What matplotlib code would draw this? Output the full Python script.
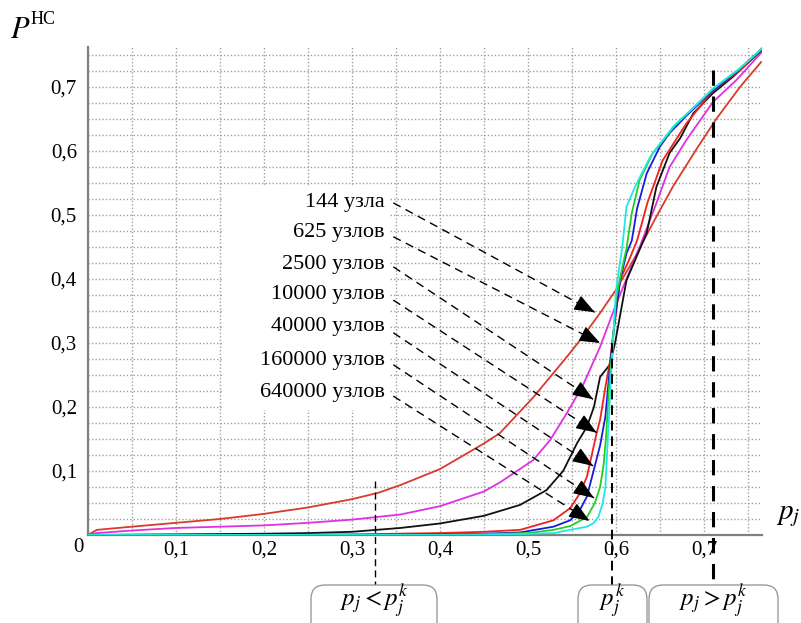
import matplotlib
matplotlib.use('Agg')
import matplotlib.pyplot as plt
from matplotlib.patches import FancyBboxPatch, Rectangle
from matplotlib.ticker import FuncFormatter, MultipleLocator

plt.rcParams['font.family'] = ['Liberation Serif', 'DejaVu Serif']
plt.rcParams['mathtext.fontset'] = 'stix'

# кривые для разных размеров решётки
x144 = [0, 0.01, 0.05, 0.1, 0.15, 0.2, 0.25, 0.3, 0.33, 0.355, 0.40, 0.45, 0.468, 0.506,
        0.544, 0.5625, 0.582, 0.60, 0.62, 0.643, 0.665, 0.693, 0.714, 0.741, 0.765]
y144 = [0, 0.008, 0.013, 0.019, 0.025, 0.033, 0.043, 0.056, 0.066, 0.078, 0.103, 0.143, 0.159, 0.215,
        0.278, 0.31, 0.347, 0.383, 0.43, 0.49, 0.545, 0.606, 0.65, 0.70, 0.739]

x625 = [0, 0.01, 0.05, 0.1, 0.15, 0.2, 0.25, 0.3, 0.355, 0.40, 0.45, 0.468, 0.506, 0.525, 0.544,
        0.5625, 0.582, 0.60, 0.615, 0.627, 0.645, 0.661, 0.68, 0.71, 0.737, 0.766]
y625 = [0, 0.003, 0.007, 0.011, 0.013, 0.015, 0.019, 0.024, 0.032, 0.045, 0.068, 0.082, 0.117, 0.148, 0.19,
        0.234, 0.294, 0.36, 0.41, 0.45, 0.515, 0.575, 0.617, 0.676, 0.711, 0.755]

x2500 = [0, 0.1, 0.2, 0.25, 0.3, 0.355, 0.40, 0.45, 0.491, 0.521, 0.54, 0.556, 0.567, 0.575, 0.582,
         0.593, 0.599, 0.612, 0.635, 0.646, 0.661, 0.673, 0.688, 0.71, 0.733, 0.766]
y2500 = [0, 0.001, 0.002, 0.003, 0.005, 0.011, 0.018, 0.03, 0.047, 0.07, 0.10, 0.144, 0.169, 0.2, 0.247,
         0.266, 0.30, 0.398, 0.472, 0.544, 0.597, 0.62, 0.659, 0.69, 0.716, 0.758]

x10000 = [0, 0.2, 0.3, 0.4, 0.45, 0.491, 0.529, 0.548, 0.559, 0.567, 0.573, 0.578, 0.582, 0.588, 0.593,
          0.599, 0.605, 0.615, 0.624, 0.636, 0.653, 0.68, 0.71, 0.74, 0.766]
y10000 = [0, 0, 0.001, 0.003, 0.005, 0.008, 0.023, 0.042, 0.065, 0.091, 0.128, 0.159, 0.18, 0.231, 0.269,
          0.336, 0.40, 0.43, 0.46, 0.52, 0.585, 0.643, 0.694, 0.725, 0.76]

x40000 = [0, 0.3, 0.4, 0.45, 0.491, 0.529, 0.548, 0.559, 0.567, 0.574, 0.582, 0.588, 0.593, 0.599, 0.605,
          0.612, 0.618, 0.624, 0.635, 0.65, 0.661, 0.68, 0.71, 0.74, 0.766]
y40000 = [0, 0, 0.001, 0.002, 0.004, 0.013, 0.023, 0.039, 0.06, 0.097, 0.14, 0.185, 0.26, 0.34, 0.40,
          0.44, 0.46, 0.51, 0.565, 0.607, 0.628, 0.655, 0.694, 0.727, 0.76]

x160000 = [0, 0.4, 0.5, 0.529, 0.548, 0.567, 0.576, 0.582, 0.586, 0.589, 0.592, 0.596, 0.6, 0.606, 0.612,
           0.618, 0.627, 0.642, 0.669, 0.69, 0.71, 0.74, 0.766]
y160000 = [0, 0, 0.003, 0.008, 0.014, 0.028, 0.05, 0.075, 0.11, 0.158, 0.227, 0.294, 0.367, 0.41, 0.448,
           0.503, 0.555, 0.597, 0.643, 0.67, 0.697, 0.728, 0.76]

x640000 = [0, 0.45, 0.529, 0.567, 0.574, 0.58, 0.585, 0.588, 0.59, 0.593, 0.597, 0.6, 0.604, 0.607, 0.612,
           0.622, 0.639, 0.665, 0.69, 0.71, 0.74, 0.766]
y640000 = [0, 0, 0.003, 0.013, 0.018, 0.028, 0.05, 0.075, 0.13, 0.21, 0.31, 0.38, 0.42, 0.448, 0.513,
           0.545, 0.591, 0.638, 0.67, 0.697, 0.728, 0.76]

curves = [(x144, y144, '#d93a2b'), (x625, y625, '#e030e0'), (x2500, y2500, '#111111'),
          (x10000, y10000, '#f02020'), (x40000, y40000, '#1a1ae0'), (x160000, y160000, '#22d022'),
          (x640000, y640000, '#22e6e6')]

labels = ['144 узла', '625 узлов', '2500 узлов', '10000 узлов', '40000 узлов', '160000 узлов', '640000 узлов']
label_y = [0.52, 0.472, 0.422, 0.375, 0.325, 0.273, 0.223]
arrow_start_y = [0.519, 0.466, 0.419, 0.367, 0.316, 0.266, 0.217]
arrow_tip = [(0.576, 0.348), (0.582, 0.300), (0.574, 0.212), (0.578, 0.160),
             (0.574, 0.108), (0.575, 0.058), (0.570, 0.022)]

zones = [r'$p_j < p^k_j$', r'$p^k_j$', r'$p_j > p^k_j$']
zone_x = [0.326, 0.596, 0.710]

fig = plt.figure(figsize=(8.01, 6.23), dpi=100)
ax = fig.add_axes([88 / 801, 88 / 623, 674 / 801, 488 / 623])
ax.set_xlim(0, 0.766)
ax.set_ylim(0, 0.7625)

# сетка
ax.set_xticks([0.1, 0.2, 0.3, 0.4, 0.5, 0.6, 0.7])
ax.set_yticks([0.1, 0.2, 0.3, 0.4, 0.5, 0.6, 0.7])
ax.xaxis.set_minor_locator(MultipleLocator(0.05))
ax.yaxis.set_minor_locator(MultipleLocator(0.025))
ax.set_axisbelow(True)
ax.grid(which='both', color='#a0a0a0', linestyle=(0, (1, 1.5)), linewidth=1)
fmt = FuncFormatter(lambda v, p: ('%.1f' % v).replace('.', ','))
ax.xaxis.set_major_formatter(fmt)
ax.yaxis.set_major_formatter(fmt)
ax.tick_params(which='both', length=0, labelsize=15)
ax.tick_params(axis='y', pad=8)
ax.tick_params(axis='x', pad=4)
for s in ['top', 'right']:
    ax.spines[s].set_visible(False)
for s in ['left', 'bottom']:
    ax.spines[s].set_color('#808080')
    ax.spines[s].set_linewidth(1.6)
ax.annotate('0', (0, 0), xytext=(-7, -9), textcoords='offset points',
            ha='center', va='center', fontsize=15)

# белая подложка под подписями
ax.add_patch(Rectangle((0.152, 0.195), 0.191, 0.349, facecolor='white', edgecolor='none', zorder=1))

for xs, ys, c in curves:
    ax.plot(xs, ys, color=c, lw=1.3, zorder=3)

for i, lab in enumerate(labels):
    ax.text(0.3375, label_y[i], lab, ha='right', va='center', fontsize=16, zorder=4)
    tx, ty = arrow_tip[i]
    sx, sy = 0.347, arrow_start_y[i]
    # штриховая линия и сплошной наконечник
    ax.plot([sx, tx], [sy, ty], color='black', lw=1, ls=(0, (6, 4)), zorder=4)
    ax.annotate('', xy=(tx, ty), xytext=(tx - (tx - sx) * 0.06, ty - (ty - sy) * 0.06),
                arrowprops=dict(arrowstyle='-|>,head_length=0.9,head_width=0.35',
                                color='black', lw=1, mutation_scale=14,
                                shrinkA=0, shrinkB=0), zorder=4)

# вертикальные границы областей
ax.plot([zone_x[0], zone_x[0]], [0.085, -0.078], color='black', lw=1, ls=(0, (5, 3)), clip_on=False, zorder=4)
ax.plot([zone_x[1], zone_x[1]], [0.30, -0.078], color='black', lw=1.4, ls=(0, (5, 3)), clip_on=False, zorder=4)
ax.plot([zone_x[2], zone_x[2]], [0.727, -0.078], color='black', lw=2.2, ls=(0, (5, 3.5)), clip_on=False, zorder=4)

# рамки снизу
boxes = [(311, 437), (578, 647), (649, 778)]
for (x0, x1), txt in zip(boxes, zones):
    fig.patches.append(FancyBboxPatch((x0 / 100, -0.3), (x1 - x0) / 100, (623 - 585) / 100 + 0.3,
                                      boxstyle='round,pad=0,rounding_size=0.14',
                                      transform=fig.dpi_scale_trans, facecolor='white',
                                      edgecolor='#909090', lw=0.9))
    fig.text((x0 + x1) / 2 / 801, 1 - 601 / 623, txt, ha='center', va='center', fontsize=18)

fig.text(10 / 801, 1 - 30 / 623, r'$P$', ha='left', va='center', fontsize=22)
fig.text(31 / 801, 1 - 19 / 623, 'НС', ha='left', va='center', fontsize=13)
fig.text(776 / 801, 1 - 516 / 623, r'$p_j$', ha='left', va='center', fontsize=21)

fig.savefig('out.png', dpi=100)
